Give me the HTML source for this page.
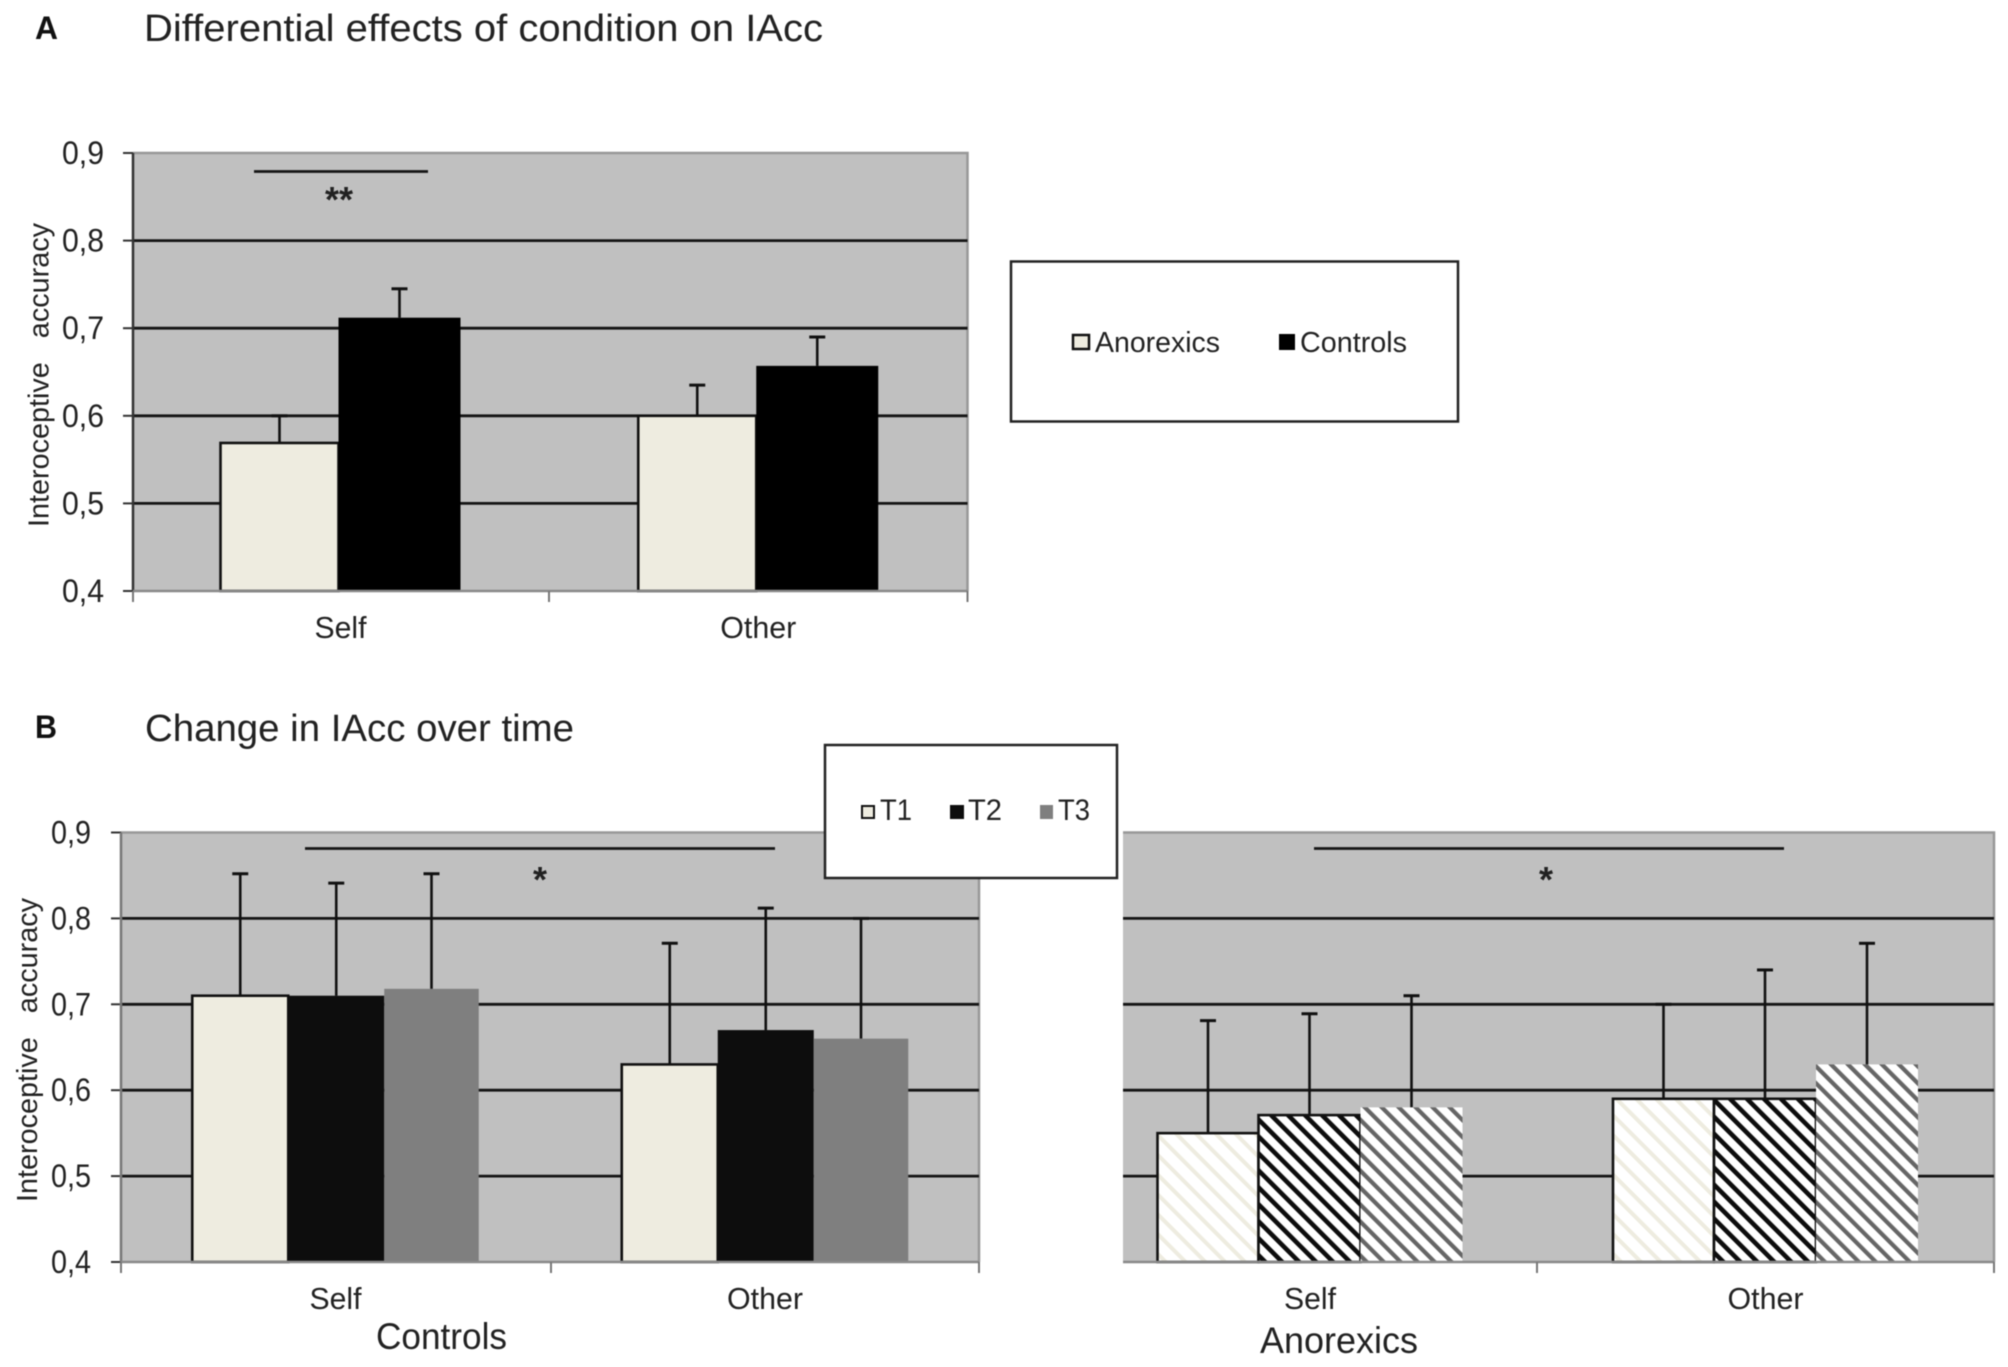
<!DOCTYPE html>
<html lang="en">
<head>
<meta charset="utf-8">
<title>Interoceptive accuracy chart</title>
<style>
html,body{margin:0;padding:0;background:#fff;width:2008px;height:1367px;overflow:hidden}
svg{display:block;filter:blur(0.55px)}
text{font-family:"Liberation Sans",sans-serif;fill:#222}
</style>
</head>
<body>
<svg id="figure" xmlns="http://www.w3.org/2000/svg" width="2008" height="1367" viewBox="0 0 2008 1367">
  <defs>
    <pattern id="hatch-t1" patternUnits="userSpaceOnUse" width="14" height="14" patternTransform="rotate(-45)">
      <rect width="14" height="14" fill="#fff"/><rect x="0" width="4" height="14" fill="#eeece0"/>
    </pattern>
    <pattern id="hatch-t2" patternUnits="userSpaceOnUse" width="12" height="12" patternTransform="rotate(-45)">
      <rect width="12" height="12" fill="#fff"/><rect x="0" width="4.6" height="12" fill="#0d0d0d"/>
    </pattern>
    <pattern id="hatch-t3" patternUnits="userSpaceOnUse" width="12" height="12" patternTransform="rotate(-45)">
      <rect width="12" height="12" fill="#fff"/><rect x="0" width="4.2" height="12" fill="#666"/>
    </pattern>
  </defs>
  <rect width="2008" height="1367" fill="#fff"/>

  <text x="35" y="39" font-size="32" font-weight="bold" style="fill:#111" textLength="23" lengthAdjust="spacingAndGlyphs">A</text>
  <text x="144" y="41" font-size="38" textLength="679" lengthAdjust="spacingAndGlyphs">Differential effects of condition on IAcc</text>
  <text x="35" y="738" font-size="32" font-weight="bold" style="fill:#111" textLength="22" lengthAdjust="spacingAndGlyphs">B</text>
  <text x="145" y="741" font-size="38" textLength="429" lengthAdjust="spacingAndGlyphs">Change in IAcc over time</text>

  <g id="panel-a"></g>
  <g id="panel-b-controls"></g>
  <g id="panel-b-anorexics"></g>

  <text x="376" y="1349" font-size="37" textLength="131" lengthAdjust="spacingAndGlyphs">Controls</text>
  <text x="1260" y="1353" font-size="37" textLength="158" lengthAdjust="spacingAndGlyphs">Anorexics</text>

  <g>
    <rect x="1011" y="261.5" width="447" height="160" fill="#fff" stroke="#222" stroke-width="2.5"/>
    <rect x="1073" y="335" width="16" height="14" fill="#eeece0" stroke="#111" stroke-width="2.5"/>
    <text x="1095" y="352" font-size="29" textLength="125" lengthAdjust="spacingAndGlyphs">Anorexics</text>
    <rect x="1279" y="334" width="16" height="16" fill="#000"/>
    <text x="1300" y="352" font-size="29" textLength="107" lengthAdjust="spacingAndGlyphs">Controls</text>
  </g>

  <g>
    <rect x="825" y="745" width="292" height="133" fill="#fff" stroke="#222" stroke-width="2.5"/>
    <rect x="862" y="806" width="12" height="12" fill="#eeece0" stroke="#111" stroke-width="2"/>
    <text x="880" y="820" font-size="30" textLength="32" lengthAdjust="spacingAndGlyphs">T1</text>
    <rect x="950" y="805" width="14" height="14" fill="#0d0d0d"/>
    <text x="968" y="820" font-size="30" textLength="34" lengthAdjust="spacingAndGlyphs">T2</text>
    <rect x="1040" y="805" width="13" height="14" fill="#7f7f7f"/>
    <text x="1058" y="820" font-size="30" textLength="32" lengthAdjust="spacingAndGlyphs">T3</text>
  </g>
</svg>

<script>
const categories = ['Self', 'Other'];
const tickValues = [0.4, 0.5, 0.6, 0.7, 0.8, 0.9];
const tickLabels = ['0,4', '0,5', '0,6', '0,7', '0,8', '0,9'];
const yAxisTitle = 'Interoceptive   accuracy';

const conditionAnorexics = [0.569, 0.6];
const conditionControls = [0.712, 0.657];
const conditionAnorexicsUpper = [0.6, 0.635];
const conditionControlsUpper = [0.745, 0.69];

const controlsT1 = [0.71, 0.63];
const controlsT2 = [0.71, 0.67];
const controlsT3 = [0.718, 0.66];
const controlsT1Upper = [0.852, 0.771];
const controlsT2Upper = [0.841, 0.812];
const controlsT3Upper = [0.852, 0.8];

const anorexicsT1 = [0.55, 0.59];
const anorexicsT2 = [0.571, 0.59];
const anorexicsT3 = [0.58, 0.63];
const anorexicsT1Upper = [0.681, 0.7];
const anorexicsT2Upper = [0.689, 0.74];
const anorexicsT3Upper = [0.71, 0.771];

const SVGNS = 'http://www.w3.org/2000/svg';

function make(parent, tag, attrs, content) {
  const node = document.createElementNS(SVGNS, tag);
  for (const key in attrs) node.setAttribute(key, attrs[key]);
  if (content !== undefined) node.textContent = content;
  parent.appendChild(node);
  return node;
}

function drawPanel(root, cfg) {
  const yScale = v => cfg.bottom - (v - tickValues[0]) / (tickValues[tickValues.length - 1] - tickValues[0]) * (cfg.bottom - cfg.top);
  const bandCenter = i => (i === 0 ? (cfg.left + cfg.mid) / 2 + cfg.firstNudge : (cfg.mid + cfg.right) / 2);

  const plot = make(root, 'rect', {x: cfg.left, y: cfg.top, width: cfg.right - cfg.left, height: cfg.bottom - cfg.top, fill: '#c0c0c0'});
  
  
  const frame = make(root, 'path', {d: 'M' + cfg.left + ' ' + cfg.top + 'H' + cfg.right + 'V' + cfg.bottom, fill: 'none', stroke: '#989898', 'stroke-width': 2.5});
  
  

  tickValues.forEach((v, i) => {
    const y = yScale(v);
    if (i > 0 && i < tickValues.length - 1) {
      const grid = make(root, 'line', {x1: cfg.left, x2: cfg.right, y1: y, y2: y, stroke: '#151515', 'stroke-width': 2.8});
      
      
    }
    if (cfg.showYAxis) {
      const tick = make(root, 'line', {x1: cfg.left - 10, x2: cfg.left, y1: y, y2: y, stroke: '#333', 'stroke-width': 2});
      
      
      const label = make(root, 'text', {x: cfg.tickLabelX, y: y + 11, 'font-size': 32, textLength: cfg.tickLabelWidth, lengthAdjust: 'spacingAndGlyphs'}, tickLabels[i]);
      
      
    }
  });

  if (cfg.showYAxis) {
    const axis = make(root, 'line', {x1: cfg.left, x2: cfg.left, y1: cfg.top, y2: cfg.bottom, stroke: cfg.yAxisColor, 'stroke-width': 2.5});
    
    
    const title = make(root, 'text', {
      transform: 'translate(' + cfg.yTitleX + ',' + cfg.yTitleBottom + ') rotate(-90)',
      'font-size': 29, textLength: cfg.yTitleLength, lengthAdjust: 'spacingAndGlyphs', style: 'white-space:pre'
    }, yAxisTitle);
    
    
  }

  const totalWidth = cfg.series.reduce((sum, s) => sum + s.width, 0);
  categories.forEach((cat, c) => {
    const cx = bandCenter(c);
    let x = cx - totalWidth / 2;
    const starts = cfg.series.map(s => { const at = x; x += s.width; return at; });
    cfg.series.forEach((s, k) => {
      const barTop = yScale(s.values[c]);
      const errX = starts[k] + s.width / 2;
      const errTop = yScale(s.upper[c]);
      const stem = make(root, 'line', {x1: errX, x2: errX, y1: errTop, y2: barTop, stroke: '#111', 'stroke-width': 2.6});
      
      
      const cap = make(root, 'line', {x1: errX - 8, x2: errX + 8, y1: errTop, y2: errTop, stroke: '#111', 'stroke-width': 3});
      
      
    });
    cfg.series.forEach((s, k) => {
      const barTop = yScale(s.values[c]);
      const bar = make(root, 'rect', {
        x: starts[k], y: barTop, width: s.width, height: cfg.bottom - barTop,
        fill: s.fill, stroke: s.stroke || 'none', 'stroke-width': s.stroke ? 2.6 : 0
      });
      
      
    });
    const catLabel = make(root, 'text', {x: bandCenter(c), y: cfg.bottom + cfg.catLabelDy, 'font-size': 31, 'text-anchor': 'middle', textLength: cat === 'Self' ? 52 : 76, lengthAdjust: 'spacingAndGlyphs'}, cat);
    
    
  });

  const xAxis = make(root, 'line', {x1: cfg.left, x2: cfg.right, y1: cfg.bottom, y2: cfg.bottom, stroke: '#8a8a8a', 'stroke-width': 2.5});
  
  
  [cfg.left, cfg.mid, cfg.right].forEach((x, i) => {
    if (i === 0 && !cfg.showYAxis) return;
    const tick = make(root, 'line', {x1: x, x2: x, y1: cfg.bottom, y2: cfg.bottom + 11, stroke: '#777', 'stroke-width': 2});
    
    
  });

  const sig = make(root, 'line', {x1: cfg.sigX1, x2: cfg.sigX2, y1: cfg.sigY, y2: cfg.sigY, stroke: '#151515', 'stroke-width': 2.8});
  
  
  const star = make(root, 'text', {x: cfg.starX, y: cfg.starY, 'font-size': 36, 'font-weight': 'bold', 'text-anchor': 'middle'}, cfg.star);
  
  
}

drawPanel(document.getElementById('panel-a'), {
  id: 'panel-a', left: 133, mid: 549, right: 967.5, top: 153, bottom: 591,
  firstNudge: -0.5, showYAxis: true, yAxisColor: '#333',
  tickLabelX: 62, tickLabelWidth: 42, yTitleX: 48.5, yTitleBottom: 527, yTitleLength: 304, catLabelDy: 47,
  sigX1: 254, sigX2: 428, sigY: 171.5, starX: 339, starY: 212, star: '**',
  series: [
    {name: 'anorexics', width: 118, values: conditionAnorexics, upper: conditionAnorexicsUpper, fill: '#eeece0', stroke: '#111'},
    {name: 'controls', width: 122, values: conditionControls, upper: conditionControlsUpper, fill: '#000'}
  ]
});

drawPanel(document.getElementById('panel-b-controls'), {
  id: 'panel-b-controls', left: 121, mid: 551, right: 979, top: 832.5, bottom: 1262,
  firstNudge: -0.5, showYAxis: true, yAxisColor: '#777',
  tickLabelX: 51, tickLabelWidth: 40, yTitleX: 37, yTitleBottom: 1202, yTitleLength: 304, catLabelDy: 47,
  sigX1: 305, sigX2: 775, sigY: 848.5, starX: 540, starY: 892, star: '*',
  series: [
    {name: 't1', width: 96, values: controlsT1, upper: controlsT1Upper, fill: '#eeece0', stroke: '#111'},
    {name: 't2', width: 96, values: controlsT2, upper: controlsT2Upper, fill: '#0d0d0d'},
    {name: 't3', width: 94.5, values: controlsT3, upper: controlsT3Upper, fill: '#7f7f7f'}
  ]
});

drawPanel(document.getElementById('panel-b-anorexics'), {
  id: 'panel-b-anorexics', left: 1123, mid: 1537, right: 1994, top: 832.5, bottom: 1262,
  firstNudge: -20, showYAxis: false, catLabelDy: 47,
  sigX1: 1314, sigX2: 1784, sigY: 848.5, starX: 1546, starY: 892, star: '*',
  series: [
    {name: 't1', width: 101, values: anorexicsT1, upper: anorexicsT1Upper, fill: 'url(#hatch-t1)', stroke: '#111'},
    {name: 't2', width: 102, values: anorexicsT2, upper: anorexicsT2Upper, fill: 'url(#hatch-t2)', stroke: '#111'},
    {name: 't3', width: 102, values: anorexicsT3, upper: anorexicsT3Upper, fill: 'url(#hatch-t3)'}
  ]
});
</script>
</body>
</html>
